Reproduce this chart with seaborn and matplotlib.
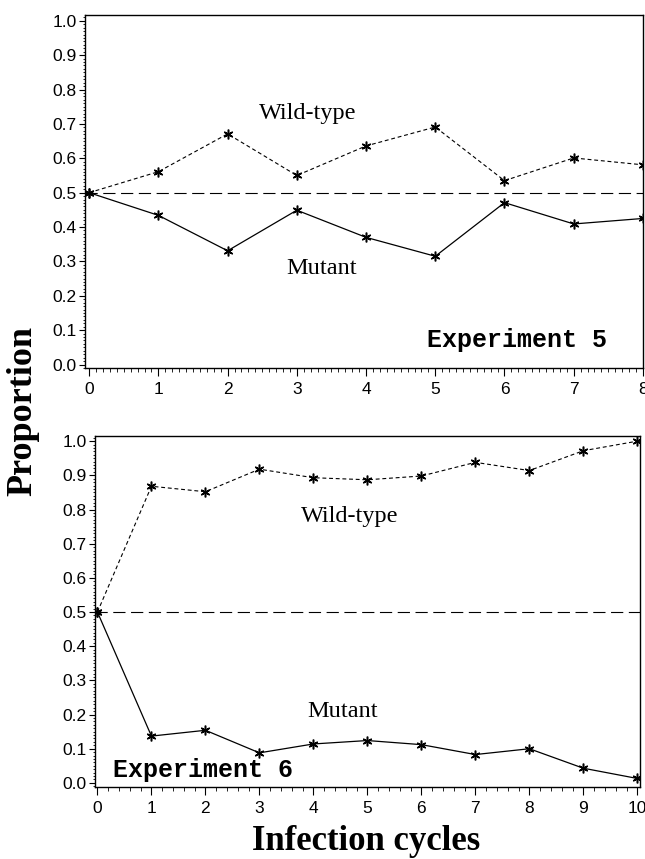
import numpy as np
import pandas as pd
import matplotlib
matplotlib.use("Agg")
import matplotlib.pyplot as plt
from matplotlib.ticker import MultipleLocator, FormatStrFormatter
import seaborn as sns

# Experiment 5 (top panel)
cycles5 = [0, 1, 2, 3, 4, 5, 6, 7, 8]
wild5 = [0.5, 0.561, 0.671, 0.550, 0.636, 0.691, 0.535, 0.601, 0.581]
mutant5 = [0.5, 0.434, 0.331, 0.449, 0.370, 0.315, 0.471, 0.409, 0.425]

# Experiment 6 (bottom panel)
cycles6 = [0, 1, 2, 3, 4, 5, 6, 7, 8, 9, 10]
wild6 = [0.5, 0.868, 0.852, 0.918, 0.893, 0.887, 0.898, 0.938, 0.914, 0.972, 1.0]
mutant6 = [0.5, 0.137, 0.154, 0.088, 0.114, 0.124, 0.112, 0.083, 0.100, 0.043, 0.013]

start_level = 0.5

sns.set_style("ticks")
plt.rcParams["font.family"] = ["Liberation Sans", "DejaVu Sans"]
plt.rcParams["text.color"] = "black"
plt.rcParams["xtick.color"] = "black"
plt.rcParams["ytick.color"] = "black"
plt.rcParams["axes.labelcolor"] = "black"

fig = plt.figure(figsize=(6.45, 8.59), dpi=100)
ax1 = fig.add_axes([0.1318, 0.5716, 0.865, 0.411])
ax2 = fig.add_axes([0.1473, 0.0838, 0.845, 0.4086])

star = (6, 2, 0)


def draw_panel(ax, x, wild, mutant, minor_x):
    df = pd.DataFrame({"cycle": x, "wild": wild, "mutant": mutant})
    sns.lineplot(data=df, x="cycle", y="wild", ax=ax, color="black",
                 linewidth=0.8, linestyle=(0, (3.5, 2.5)), marker=star,
                 markersize=7, markeredgewidth=1.1, markeredgecolor="black")
    sns.lineplot(data=df, x="cycle", y="mutant", ax=ax, color="black",
                 linewidth=0.9, marker=star, markersize=7,
                 markeredgewidth=1.1, markeredgecolor="black")
    ax.axhline(start_level, color="black", linewidth=0.8,
               linestyle=(0, (11, 5)), zorder=1)
    ax.set_xlabel("")
    ax.set_ylabel("")
    ax.set_yticks(np.arange(0, 1.01, 0.1))
    ax.yaxis.set_major_formatter(FormatStrFormatter("%.1f"))
    ax.yaxis.set_minor_locator(MultipleLocator(0.01))
    ax.xaxis.set_major_locator(MultipleLocator(1))
    ax.xaxis.set_minor_locator(MultipleLocator(minor_x))
    ax.tick_params(axis="y", which="major", length=4, width=0.8,
                   labelsize=12.5, pad=2)
    ax.tick_params(axis="y", which="minor", length=1.5, width=0.6)
    ax.tick_params(axis="x", which="major", length=6, width=0.8,
                   labelsize=12.5, pad=4)
    ax.tick_params(axis="x", which="minor", length=3, width=0.6)
    for s in ax.spines.values():
        s.set_visible(True)
        s.set_linewidth(1.0)
        s.set_color("black")


draw_panel(ax1, cycles5, wild5, mutant5, 0.1)
ax1.set_xlim(-0.06, 8.0)
ax1.set_ylim(-0.01, 1.017)
ax1.text(3.16, 0.714, "Wild-type", family="Liberation Serif", fontsize=17.5,
         ha="center", va="baseline")
ax1.text(3.36, 0.262, "Mutant", family="Liberation Serif", fontsize=17.5,
         ha="center", va="baseline")
ax1.text(4.88, 0.05, "Experiment 5", family="Liberation Mono",
         fontweight="bold", fontsize=18, ha="left", va="baseline")

draw_panel(ax2, cycles6, wild6, mutant6, 0.2)
ax2.set_xlim(-0.045, 10.05)
ax2.set_ylim(-0.012, 1.015)
ax2.text(4.68, 0.763, "Wild-type", family="Liberation Serif", fontsize=17.5,
         ha="center", va="baseline")
ax2.text(4.55, 0.193, "Mutant", family="Liberation Serif", fontsize=17.5,
         ha="center", va="baseline")
ax2.text(0.29, 0.018, "Experiment 6", family="Liberation Mono",
         fontweight="bold", fontsize=18, ha="left", va="baseline")

fig.text(23 / 645, 1 - 411 / 859, "Proportion", family="Liberation Serif",
         fontweight="bold", fontsize=26, rotation=90, ha="center", va="center")
fig.text(366 / 645, 1 - 850 / 859, "Infection cycles", family="Liberation Serif",
         fontweight="bold", fontsize=25, ha="center", va="baseline")

fig.savefig("out.png", dpi=100)
